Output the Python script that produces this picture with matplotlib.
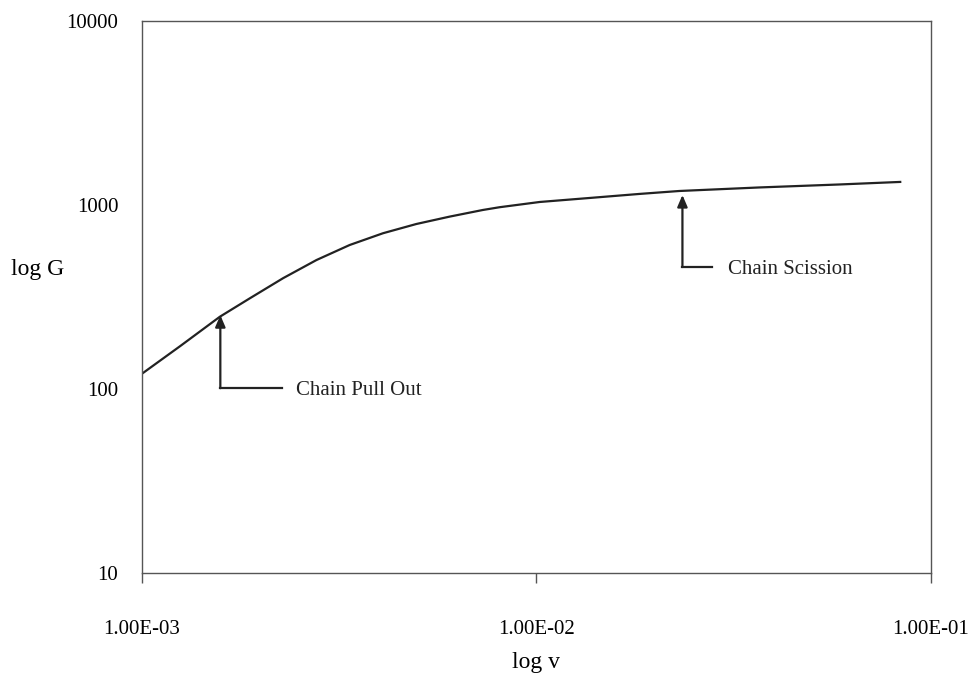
import matplotlib
matplotlib.use("Agg")
import matplotlib.pyplot as plt

# Data
rate = [1.00e-3, 1.25e-3, 1.576e-3, 1.877e-3, 2.279e-3, 2.769e-3, 3.362e-3, 4.083e-3,
        4.96e-3, 6.02e-3, 7.31e-3, 8.06e-3, 1.019e-2, 1.361e-2, 1.824e-2, 2.301e-2,
        3.673e-2, 5.848e-2, 8.356e-2]
G = [121, 171, 247, 311, 400, 502, 606, 702,
     788, 864, 939, 972, 1038, 1091, 1148, 1191,
     1245, 1292, 1334]

x_ticks = [1e-3, 1e-2, 1e-1]
x_tick_labels = ["1.00E-03", "1.00E-02", "1.00E-01"]
y_ticks = [10, 100, 1000, 10000]
y_tick_labels = ["10", "100", "1000", "10000"]

annotations = [
    # label, tip x, tip y, corner y, line end x, text x
    ("Chain Pull Out", 1.58e-3, 252, 101, 2.265e-3, 2.455e-3),
    ("Chain Scission", 2.344e-2, 1133, 460, 2.786e-2, 3.05e-2),
]

plt.rcParams['font.family'] = ['Liberation Serif', 'DejaVu Serif']

fig = plt.figure(figsize=(9.71, 6.78), dpi=100)
ax = fig.add_axes([0.1462, 0.1549, 0.8126, 0.8142])

ax.plot(rate, G, color='#222222', lw=1.6)
ax.set_xscale('log')
ax.set_yscale('log')
ax.set_xlim(1e-3, 1e-1)
ax.set_ylim(10, 10000)

ax.set_xticks(x_ticks)
ax.set_xticklabels(x_tick_labels)
ax.set_yticks(y_ticks)
ax.set_yticklabels(y_tick_labels)
ax.minorticks_off()
ax.tick_params(axis='x', direction='out', length=7, width=1, color='#555555',
               labelsize=15, pad=27)
ax.tick_params(axis='y', length=0, labelsize=15, pad=17)

for s in ax.spines.values():
    s.set_color('#555555')
    s.set_linewidth(1.0)

ax.set_xlabel("log v", fontsize=17, labelpad=9)
ax.set_ylabel("log G", fontsize=17, rotation=0, va='center', ha='left')
ax.yaxis.set_label_coords(-0.166, 0.55)

for label, tx, ty, cy, ex, txt_x in annotations:
    ax.annotate("", xy=(tx, ty), xytext=(tx, cy),
                arrowprops=dict(arrowstyle='-|>,head_length=0.7,head_width=0.3',
                                color='#222222', lw=1.6, shrinkA=0, shrinkB=0))
    ax.plot([tx, ex], [cy, cy], color='#222222', lw=1.6)
    ax.text(txt_x, cy, label, fontsize=15, va='center_baseline', ha='left', color='#222222')

fig.savefig("out.png", dpi=100)
